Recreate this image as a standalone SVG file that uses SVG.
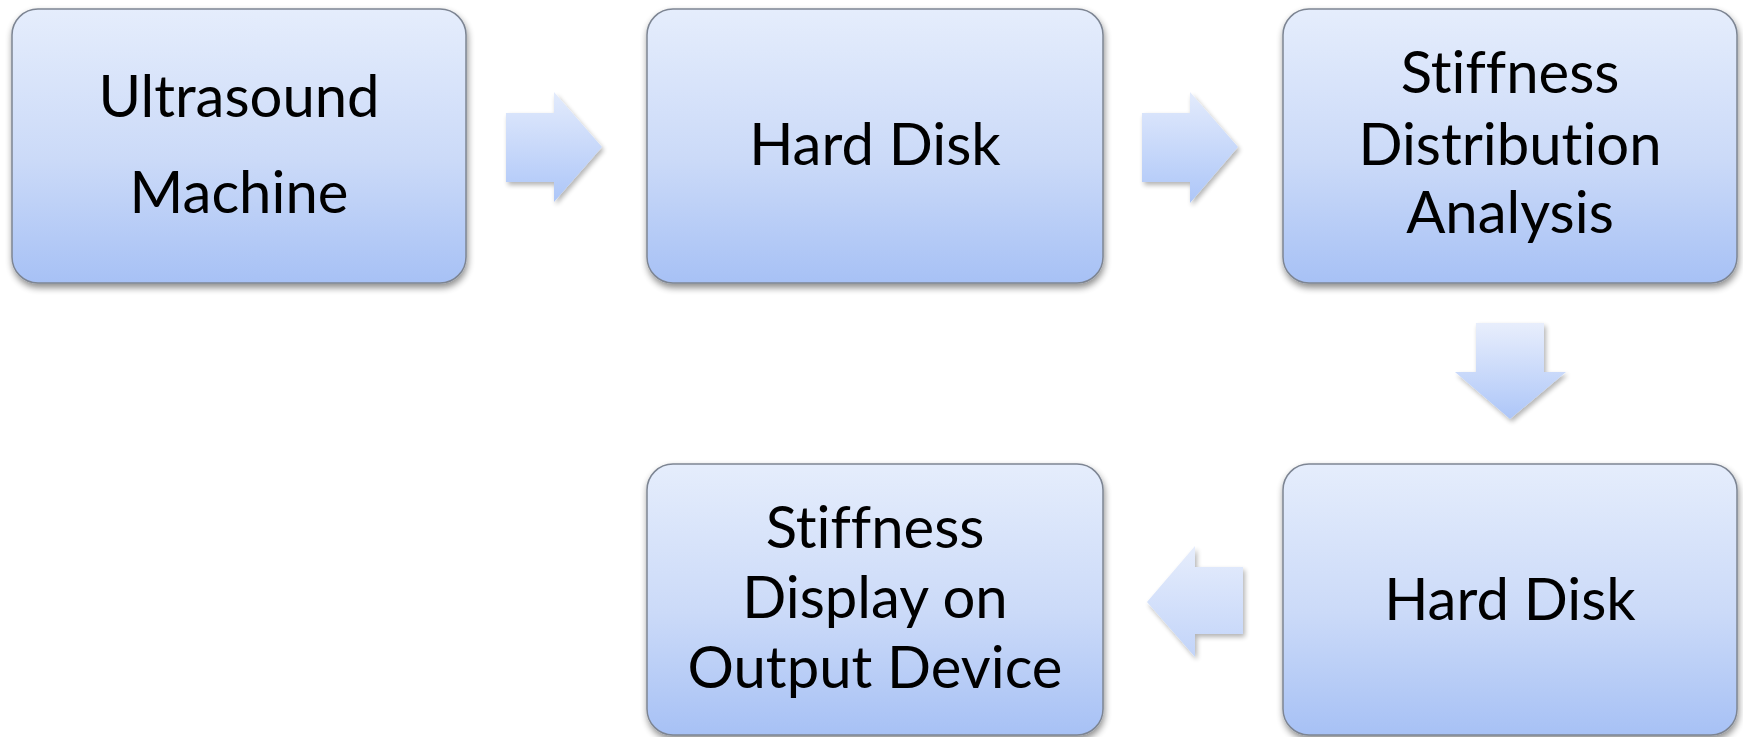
<svg xmlns="http://www.w3.org/2000/svg" width="1743" height="737" viewBox="0 0 1743 737">
  <defs>
    <linearGradient id="boxFill" x1="0" y1="0" x2="0" y2="1">
      <stop offset="0" stop-color="#e5edfc"/>
      <stop offset="0.55" stop-color="#cbdaf8"/>
      <stop offset="1" stop-color="#a7c1f5"/>
    </linearGradient>
    <linearGradient id="arrowFillH" x1="0" y1="0" x2="0" y2="1">
      <stop offset="0" stop-color="#e3ebfc"/>
      <stop offset="1" stop-color="#adc6f8"/>
    </linearGradient>
    <linearGradient id="arrowFillDown" x1="0" y1="0" x2="0" y2="1">
      <stop offset="0" stop-color="#e8eefc"/>
      <stop offset="1" stop-color="#adc6f8"/>
    </linearGradient>
    <linearGradient id="arrowFillLeft" x1="0" y1="0" x2="0" y2="1">
      <stop offset="0" stop-color="#e6edfc"/>
      <stop offset="1" stop-color="#c2d4f9"/>
    </linearGradient>
    <filter id="boxShadow" x="-10%" y="-10%" width="120%" height="130%">
      <feGaussianBlur in="SourceAlpha" stdDeviation="3.5"/>
      <feOffset dx="1" dy="4" result="blur"/>
      <feComponentTransfer><feFuncA type="linear" slope="0.45"/></feComponentTransfer>
      <feMerge><feMergeNode/><feMergeNode in="SourceGraphic"/></feMerge>
    </filter>
    <filter id="arrowShadow" x="-20%" y="-20%" width="150%" height="150%">
      <feGaussianBlur in="SourceAlpha" stdDeviation="2.5"/>
      <feOffset dx="2" dy="3"/>
      <feComponentTransfer><feFuncA type="linear" slope="0.3"/></feComponentTransfer>
      <feMerge><feMergeNode/><feMergeNode in="SourceGraphic"/></feMerge>
    </filter>
  </defs>
  <style>
    .box { fill: url(#boxFill); stroke: #7d8593; stroke-width: 1.5; filter: url(#boxShadow); }
    .label { font-family: Lato, "Open Sans", "Liberation Sans", sans-serif; font-size: 58px; fill: #000; text-anchor: middle; font-variant-ligatures: none; font-feature-settings: "liga" 0, "dlig" 0; }
    .arrow { filter: url(#arrowShadow); }
  </style>

  <rect width="1743" height="737" fill="#ffffff"/>

  <!-- flow arrows -->
  <g id="connectors">
    <polygon class="arrow" fill="url(#arrowFillH)" points="506,113 554,113 554,92 602,147 554,202 554,182 506,182"/>
    <polygon class="arrow" fill="url(#arrowFillH)" points="1142,113 1190,113 1190,92 1238,147 1190,203 1190,182 1142,182"/>
    <polygon class="arrow" fill="url(#arrowFillDown)" points="1476,323 1544,323 1544,372 1566,372 1510,419 1455,372 1476,372"/>
    <polygon class="arrow" fill="url(#arrowFillLeft)" points="1243,567 1243,634 1195,634 1195,657 1147,602 1195,546 1195,567"/>
  </g>

  <g id="node-ultrasound">
    <rect class="box" x="12" y="9" width="454" height="274" rx="26"/>
    <text class="label" x="239" y="117">Ultrasound</text>
    <text class="label" x="239" y="213">Machine</text>
  </g>

  <g id="node-harddisk-1">
    <rect class="box" x="647" y="9" width="456" height="274" rx="26"/>
    <text class="label" x="875" y="165">Hard Disk</text>
  </g>

  <g id="node-analysis">
    <rect class="box" x="1283" y="9" width="454" height="274" rx="26"/>
    <text class="label" x="1510" y="93">Stiffness</text>
    <text class="label" x="1510" y="165">Distribution</text>
    <text class="label" x="1510" y="233">Analysis</text>
  </g>

  <g id="node-harddisk-2">
    <rect class="box" x="1283" y="464" width="454" height="271" rx="26"/>
    <text class="label" x="1510" y="620">Hard Disk</text>
  </g>

  <g id="node-display">
    <rect class="box" x="647" y="464" width="456" height="271" rx="26"/>
    <text class="label" x="875" y="548">Stiffness</text>
    <text class="label" x="875" y="618">Display on</text>
    <text class="label" x="875" y="688">Output Device</text>
  </g>
</svg>
